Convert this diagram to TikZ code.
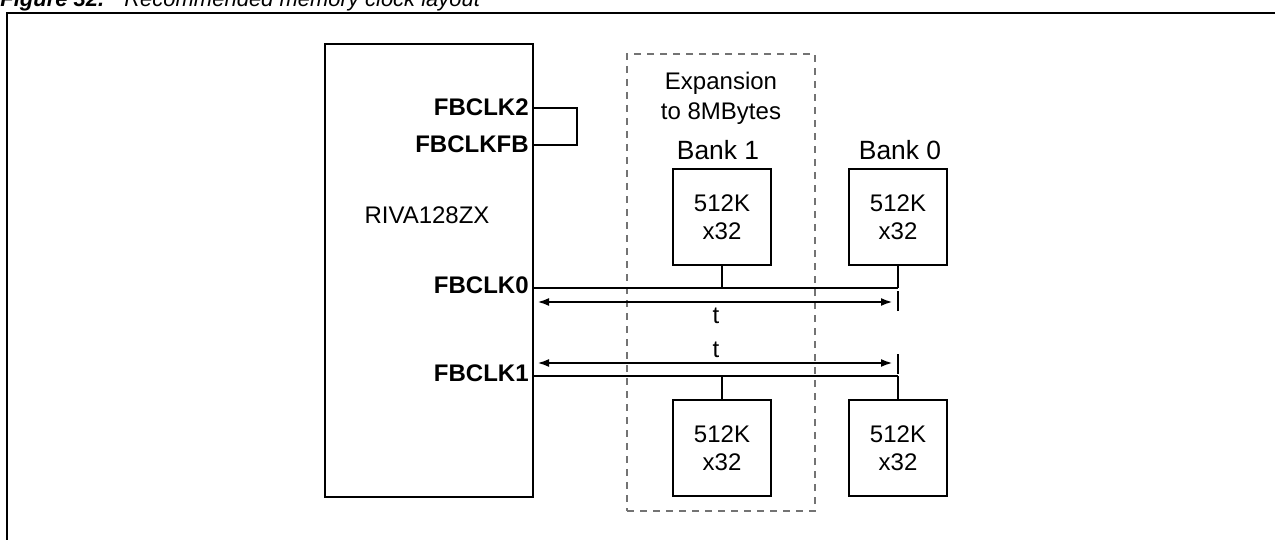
\documentclass[tikz,border=0pt]{standalone}
\usepackage{fontspec}
\setmainfont{Liberation Sans}
\usetikzlibrary{arrows.meta, positioning}

\begin{document}
\begin{tikzpicture}[
  x=0.5pt, y=-0.5pt,
  font=\fontsize{12}{14}\selectfont,
  node distance=38pt,
  chip/.style={rectangle, draw, line width=0.9pt, minimum width=104pt, minimum height=226.5pt, inner sep=0pt},
  mem/.style={rectangle, draw, line width=1pt, minimum width=49pt, minimum height=48pt,
              align=center, inner sep=0pt, font=\fontsize{12}{14}\selectfont},
  pin/.style={anchor=east, inner sep=1pt, font=\fontsize{12}{14}\selectfont\bfseries},
  bank/.style={inner sep=0pt, font=\fontsize{13.2}{15}\selectfont},
  expbox/.style={rectangle, draw=black!55, dash pattern=on 3.5pt off 3pt, line width=0.6pt,
                 minimum width=94pt, minimum height=228.5pt, inner sep=0pt},
  bus/.style={line width=1.2pt},
  stub/.style={line width=0.65pt},
  dim/.style={{Latex[length=6pt,width=4pt]}-{Latex[length=6pt,width=4pt]}, line width=1.2pt},
]
  \useasboundingbox (0,0) rectangle (1275,540);

  % frame and (cut) caption
  \coordinate (fbl) at (7,560);
  \coordinate (ftl) at (7,13);
  \coordinate (ftr) at (1290,13);
  \draw[line width=1pt] (fbl) -- (ftl) -- (ftr);
  \node[anchor=base west, inner sep=0pt, font=\fontsize{11}{13}\selectfont\itshape] (cap) at (0,7)
    {\textbf{Figure 32.}\hspace{10pt}Recommended memory clock layout};

  % controller
  \node[chip] (chip) at (429,270.5) {};
  \node (riva) at (427,215) {RIVA128ZX};
  \node[pin] (fb2) at (531,107) {FBCLK2};
  \node[pin] (fbfb) at (531,144) {FBCLKFB};
  \node[pin] (fb0) at (531,285) {FBCLK0};
  \node[pin] (fb1) at (531,373) {FBCLK1};

  % memories
  \node[expbox] (exp) at (721,282.5) {};
  \node[align=center, inner sep=0pt, font=\fontsize{12}{15}\selectfont] (exptxt) at (721,98) {Expansion\\to 8MBytes};
  \node[mem] (m1t) at (722,217) {512K\\x32};
  \node[mem, right=of m1t] (m0t) {512K\\x32};
  \node[mem, below=66.5pt of m1t] (m1b) {512K\\x32};
  \node[mem, below=66.5pt of m0t] (m0b) {512K\\x32};
  \node[bank, above=4pt of m1t, xshift=-2pt] (bank1) {Bank 1};
  \node[bank, above=4pt of m0t, xshift=1pt] (bank0) {Bank 0};

  % clock nets
  \coordinate (c2) at (533,108);
  \coordinate (cfb) at (533,145);
  \coordinate (c0) at (533,288);
  \coordinate (c1) at (533,376);
  \draw[line width=0.8pt] (c2) -- ++(44,0) |- (cfb);
  \draw[bus] (c0) -- (c0 -| m0t.south);
  \draw[bus] (c1) -- (c1 -| m0b.north);
  \draw[stub] (m1t.south) -- (m1t.south |- c0);
  \draw[stub] (m0t.south) -- (m0t.south |- c0);
  \draw[stub] (m1b.north) -- (m1b.north |- c1);
  \draw[stub] (m0b.north) -- (m0b.north |- c1);

  % delays
  \coordinate (d0a) at (537,302);
  \coordinate (d0b) at (893,302);
  \coordinate (d1a) at (537,363);
  \coordinate (d1b) at (893,363);
  \draw[dim] (d0a) -- (d0b);
  \draw[dim] (d1a) -- (d1b);
  \draw[stub] ([yshift=-4.5pt]d0b -| m0t.south) -- ([yshift=5.5pt]d0b -| m0t.south);
  \draw[stub] ([yshift=-5.5pt]d1b -| m0t.south) -- ([yshift=4.5pt]d1b -| m0t.south);
  \node (t0) at (716,316) {t};
  \node (t1) at (716,350) {t};
\end{tikzpicture}
\end{document}
